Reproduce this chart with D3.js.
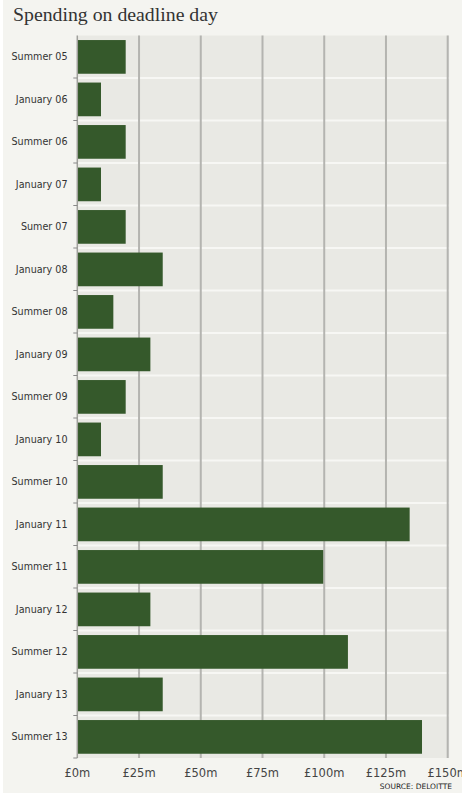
<!DOCTYPE html>
<html>
<head>
<meta charset="utf-8">
<script src="https://cdn.jsdelivr.net/npm/d3@7"></script>
<style>
  html, body { margin: 0; padding: 0; background: #ffffff; }
  svg { display: block; }
</style>
</head>
<body>
<svg id="chart" width="469" height="794"></svg>
<script>
const categories = ["Summer 05","January 06","Summer 06","January 07","Sumer 07","January 08","Summer 08","January 09","Summer 09","January 10","Summer 10","January 11","Summer 11","January 12","Summer 12","January 13","Summer 13"];
const values = [20, 10, 20, 10, 20, 35, 15, 30, 20, 10, 35, 135, 100, 30, 110, 35, 140];
const tickValues = [0, 25, 50, 75, 100, 125, 150];
const tickLabels = ["£0m","£25m","£50m","£75m","£100m","£125m","£150m"];
const title = "Spending on deadline day";
const source = "SOURCE: DELOITTE";

const svg = d3.select("#chart");
const W = 469, H = 794;
const m = { left: 77.3, right: 447.7, top: 35.5, bottom: 758 };

// panel background
svg.append("rect").attr("x", 3).attr("y", 0).attr("width", 459).attr("height", 793).attr("fill", "#f4f4f0");

// title
svg.append("text").attr("x", 13).attr("y", 21)
  .attr("font-family", "'Liberation Serif', Georgia, serif").attr("font-size", 19.8)
  .attr("fill", "#333").text(title);

const x = d3.scaleLinear().domain([0, 150]).range([m.left, m.right]);
const y = d3.scaleBand().domain(categories).range([m.top, m.bottom]).paddingInner(0.2).paddingOuter(0.1);
const yb = d3.scaleBand().domain(categories).range([m.top, m.bottom]);

// plot background
svg.append("rect").attr("x", m.left).attr("y", m.top)
  .attr("width", m.right - m.left + 1.5).attr("height", m.bottom - m.top)
  .attr("fill", "#e9e9e4");

// white band separators
svg.append("g").selectAll("line").data(categories.slice(1)).join("line")
  .attr("x1", m.left).attr("x2", m.right + 1.5)
  .attr("y1", d => yb(d)).attr("y2", d => yb(d))
  .attr("stroke", "#f7f7f4").attr("stroke-width", 2.2);

// vertical gridlines
svg.append("g").selectAll("line").data(tickValues.slice(1)).join("line")
  .attr("x1", d => x(d)).attr("x2", d => x(d))
  .attr("y1", m.top).attr("y2", m.bottom)
  .attr("stroke", "#b4b4b0").attr("stroke-width", 2);

// bars
svg.append("g").selectAll("rect").data(categories).join("rect")
  .attr("x", x(0) + 0.5)
  .attr("y", d => y(d) + 0.3)
  .attr("width", (d, i) => x(values[i]) - x(0) - 1.5)
  .attr("height", y.bandwidth() - 0.3)
  .attr("fill", "#35592b");

// y axis line and ticks at band boundaries
svg.append("line").attr("x1", m.left).attr("x2", m.left).attr("y1", m.top).attr("y2", m.bottom)
  .attr("stroke", "#a0a09c").attr("stroke-width", 1.5);
svg.append("g").selectAll("line").data(categories.slice(1).concat([null])).join("line")
  .attr("x1", m.left - 4).attr("x2", m.left)
  .attr("y1", d => d === null ? m.bottom : yb(d)).attr("y2", d => d === null ? m.bottom : yb(d))
  .attr("stroke", "#888").attr("stroke-width", 1);

// y labels
svg.append("g").selectAll("text").data(categories).join("text")
  .attr("x", 67.5).attr("y", d => yb(d) + yb.bandwidth() / 2)
  .attr("dy", "0.35em").attr("text-anchor", "end")
  .attr("font-family", "Verdana, 'DejaVu Sans', sans-serif").attr("font-size", 9.6)
  .attr("fill", "#333").text(d => d);

// x labels
svg.append("g").selectAll("text").data(tickValues).join("text")
  .attr("x", d => x(d)).attr("y", 777)
  .attr("text-anchor", "middle")
  .attr("font-family", "Verdana, 'DejaVu Sans', sans-serif").attr("font-size", 11.5)
  .attr("fill", "#444").text((d, i) => tickLabels[i]);

// white strip at right edge (clips last label)
svg.append("rect").attr("x", 462).attr("y", 0).attr("width", 7).attr("height", H).attr("fill", "#ffffff");
svg.append("rect").attr("x", 0).attr("y", 793).attr("width", W).attr("height", 1).attr("fill", "#ffffff");

// source
svg.append("text").attr("x", 452).attr("y", 789).attr("text-anchor", "end")
  .attr("font-family", "Verdana, 'DejaVu Sans', sans-serif").attr("font-size", 7.5)
  .attr("fill", "#222").text(source);
</script>
</body>
</html>
